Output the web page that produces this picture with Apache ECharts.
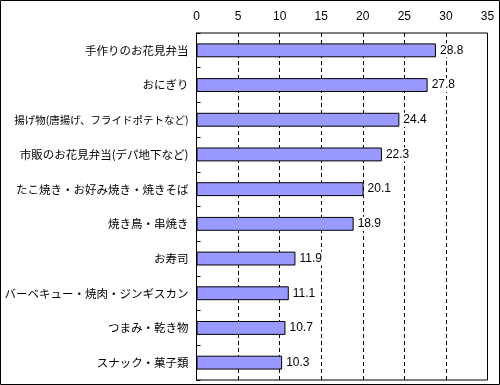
<!DOCTYPE html>
<html><head><meta charset="utf-8">
<script src="https://cdn.jsdelivr.net/npm/echarts@6/dist/echarts.min.js"></script>
<style>html,body{margin:0;padding:0;background:#fff}#c{width:500px;height:385px}</style>
</head><body><div id="c"></div>
<script>
const categories = ["手作りのお花見弁当","おにぎり","揚げ物(唐揚げ、フライドポテトなど)","市販のお花見弁当(デパ地下など)","たこ焼き・お好み焼き・焼きそば","焼き鳥・串焼き","お寿司","バーベキュー・焼肉・ジンギスカン","つまみ・乾き物","スナック・菓子類"];
const values = [28.8,27.8,24.4,22.3,20.1,18.9,11.9,11.1,10.7,10.3];
const xTicks = [0,5,10,15,20,25,30,35];
const font = '"Noto Sans CJK JP", sans-serif';
const numFont = '"Liberation Sans", Arial, sans-serif';
const chart = echarts.init(document.getElementById('c'), null, {renderer:'canvas'});
chart.setOption({
  animation:false,
  grid:{left:196.5,top:33,right:12.5,bottom:5,show:true,borderColor:'#000',borderWidth:1,backgroundColor:'#fff',
    containLabel:false,outerBoundsMode:'none'},
  xAxis:{type:'value',position:'top',min:xTicks[0],max:xTicks[xTicks.length-1],interval:5,
    axisLine:{show:false},axisTick:{show:false},
    axisLabel:{color:'#000',fontSize:12,fontFamily:numFont,margin:10},
    splitLine:{show:true,lineStyle:{color:'#000',type:[4,3],width:1}}},
  yAxis:{type:'category',data:categories,inverse:true,
    axisLine:{show:true,lineStyle:{color:'#000'}},
    axisTick:{show:true,inside:true,length:4,lineStyle:{color:'#000'}},
    axisLabel:{color:'#000',fontSize:11.5,fontFamily:font,margin:8,
      formatter:function(v){ return v.length > 16 ? '{s|' + v + '}' : v; },
      rich:{s:{fontSize:10.5,fontFamily:font,color:'#000'}}}},
  series:[{type:'bar',data:values,barCategoryGap:'60%',
    itemStyle:{color:'#9999FF',borderColor:'#000',borderWidth:1},
    label:{show:true,position:'right',distance:3,color:'#000',fontSize:12,fontFamily:numFont,backgroundColor:'#fff',padding:[1,1]}}],
  graphic:[{type:'rect',shape:{x:0.5,y:0.5,width:499,height:384},style:{fill:null,stroke:'#000',lineWidth:1},silent:true}]
});
</script></body></html>
